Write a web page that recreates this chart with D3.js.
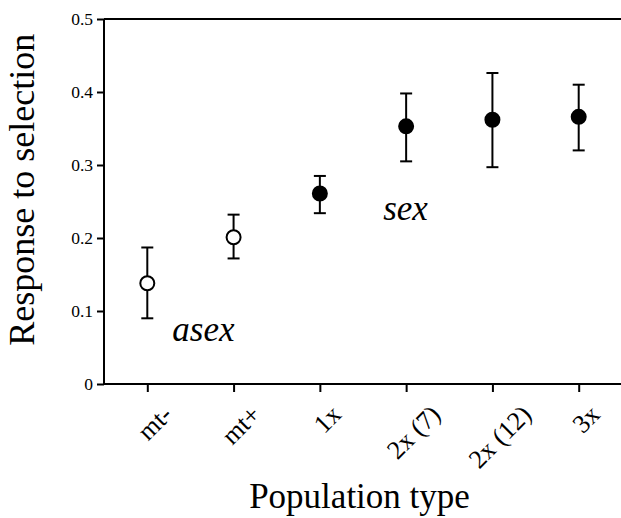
<!DOCTYPE html>
<html><head><meta charset="utf-8">
<script src="https://cdn.jsdelivr.net/npm/d3@7/dist/d3.min.js"></script>
<style>
html,body{margin:0;padding:0;background:#fff;}
svg{display:block;}
svg text{font-family:"Liberation Serif","Times New Roman",Times,serif;fill:#000;}
</style></head>
<body>
<svg id="chart" width="621" height="518"></svg>
<script>
const categories = ["mt-", "mt+", "1x", "2x (7)", "2x (12)", "3x"];
const means = [0.138, 0.201, 0.261, 0.353, 0.362, 0.366];
const upper = [0.187, 0.232, 0.285, 0.398, 0.426, 0.410];
const lower = [0.090, 0.172, 0.234, 0.305, 0.297, 0.320];
const groups = ["asex", "asex", "sex", "sex", "sex", "sex"];
const yTicks = [0, 0.1, 0.2, 0.3, 0.4, 0.5];
const yTickLabels = ["0", "0.1", "0.2", "0.3", "0.4", "0.5"];

(function () {
const FONT = "Liberation Serif, Times New Roman, serif";
const svg = d3.select("#chart");
const mLeft = 104, mRight = 621, mTop = 19, mBottom = 384;

const y = d3.scaleLinear().domain([0, 0.5]).range([mBottom, mTop]);
const x = d3.scalePoint().domain(categories).range([147.3, 578.7]);

svg.append("line").attr("x1", mLeft).attr("x2", mRight).attr("y1", y(0.5)).attr("y2", y(0.5))
  .attr("stroke", "#000").attr("stroke-width", 2);

// y axis
const yAxis = svg.append("g").attr("transform", `translate(${mLeft},0)`)
  .call(d3.axisLeft(y).tickValues(yTicks).tickFormat((d, i) => yTickLabels[i]).tickSize(7).tickPadding(4));
yAxis.attr("font-family", FONT).attr("font-size", 17.5);
yAxis.select(".domain").attr("stroke-width", 2).attr("d", `M0,${y(0.5)}V${y(0)}`);
yAxis.selectAll(".tick line").attr("stroke-width", 2);

// x axis
const xFs = 26;
const xAxis = svg.append("g").attr("transform", `translate(0,${mBottom})`)
  .call(d3.axisBottom(x).tickSize(8).tickSizeOuter(0));
xAxis.attr("font-family", FONT).attr("font-size", xFs);
xAxis.select(".domain").attr("stroke-width", 2).attr("d", `M${mLeft},0H${mRight}`);
xAxis.selectAll(".tick line").attr("stroke-width", 2);
const c45 = Math.SQRT1_2;
xAxis.selectAll("text")
  .attr("text-anchor", "middle").attr("dy", null).attr("y", 0).attr("x", 0)
  .each(function () {
    const L = this.getComputedTextLength();
    const h = xFs * 0.55;
    const H = (L + h) * c45;              // rotated box height
    const vx = 8, vy = 22 + H / 2;          // visual centre below the tick
    const bx = vx + (h / 2) * c45, by = vy + (h / 2) * c45;
    d3.select(this).attr("transform", `translate(${bx},${by}) rotate(-45)`);
  });

// error bars and markers
const data = categories.map((c, i) => ({c, m: means[i], hi: upper[i], lo: lower[i], g: groups[i]}));
const eb = svg.append("g").attr("stroke", "#000").attr("stroke-width", 2);
eb.selectAll("line.v").data(data).join("line").attr("class", "v")
  .attr("x1", d => x(d.c)).attr("x2", d => x(d.c)).attr("y1", d => y(d.hi)).attr("y2", d => y(d.lo));
eb.selectAll("line.capT").data(data).join("line").attr("class", "capT")
  .attr("x1", d => x(d.c) - 6).attr("x2", d => x(d.c) + 6).attr("y1", d => y(d.hi)).attr("y2", d => y(d.hi));
eb.selectAll("line.capB").data(data).join("line").attr("class", "capB")
  .attr("x1", d => x(d.c) - 6).attr("x2", d => x(d.c) + 6).attr("y1", d => y(d.lo)).attr("y2", d => y(d.lo));
svg.append("g").selectAll("circle").data(data).join("circle")
  .attr("cx", d => x(d.c)).attr("cy", d => y(d.m)).attr("r", 7)
  .attr("fill", d => d.g === "asex" ? "#fff" : "#000")
  .attr("stroke", "#000").attr("stroke-width", 2);

// group annotations
svg.append("text").attr("x", x("mt-") + 25).attr("y", y(0.059))
  .attr("font-family", FONT).attr("font-style", "italic").attr("font-size", 35).text("asex");
svg.append("text").attr("x", x("2x (7)") - 23).attr("y", y(0.224))
  .attr("font-family", FONT).attr("font-style", "italic").attr("font-size", 35).text("sex");

// axis titles
svg.append("text").attr("transform", `translate(34,${y(0.266)}) rotate(-90)`)
  .attr("font-family", FONT).attr("text-anchor", "middle").attr("font-size", 36).text("Response to selection");
svg.append("text").attr("x", (mLeft + mRight) / 2 - 3).attr("y", 508)
  .attr("font-family", FONT).attr("text-anchor", "middle").attr("font-size", 35).text("Population type");
})();
</script>
</body></html>
